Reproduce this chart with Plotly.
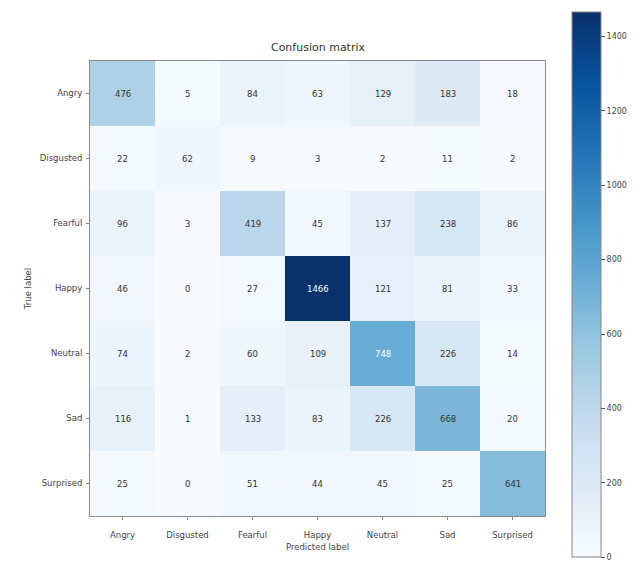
import plotly.graph_objects as go

labels = ["Angry", "Disgusted", "Fearful", "Happy", "Neutral", "Sad", "Surprised"]
matrix = [
    [476, 5, 84, 63, 129, 183, 18],
    [22, 62, 9, 3, 2, 11, 2],
    [96, 3, 419, 45, 137, 238, 86],
    [46, 0, 27, 1466, 121, 81, 33],
    [74, 2, 60, 109, 748, 226, 14],
    [116, 1, 133, 83, 226, 668, 20],
    [25, 0, 51, 44, 45, 25, 641],
]
cbar_ticks = [0, 200, 400, 600, 800, 1000, 1200, 1400]

blues = [
    [0.0, "rgb(247,251,255)"], [0.125, "rgb(222,235,247)"], [0.25, "rgb(198,219,239)"],
    [0.375, "rgb(158,202,225)"], [0.5, "rgb(107,174,214)"], [0.625, "rgb(66,146,198)"],
    [0.75, "rgb(33,113,181)"], [0.875, "rgb(8,81,156)"], [1.0, "rgb(8,48,107)"],
]

zmax = max(max(r) for r in matrix)
font = "DejaVu Sans"

fig = go.Figure(go.Heatmap(
    z=matrix, x=labels, y=labels, colorscale=blues, zmin=0, zmax=zmax,
    xgap=0, ygap=0,
    colorbar=dict(
        x=1.059, xanchor="left", xpad=0, ypad=0, thickness=29,
        lenmode="fraction", len=1.198, y=0.5086, yanchor="middle",
        tickvals=cbar_ticks, ticks="outside", ticklen=4, tickcolor="#555",
        tickfont=dict(family=font, size=8, color="#444"),
        outlinecolor="#888", outlinewidth=1,
    ),
    hoverinfo="z",
))

thresh = zmax / 2
for i, row in enumerate(matrix):
    for j, v in enumerate(row):
        fig.add_annotation(
            x=labels[j], y=labels[i], text=str(v), showarrow=False,
            font=dict(family=font, size=8.5, color="white" if v > thresh else "#333"),
        )

fig.update_layout(
    width=640, height=569,
    margin=dict(l=90, r=94, t=58, b=46),
    plot_bgcolor="white", paper_bgcolor="white",
    title=dict(text="Confusion matrix", x=318 / 640, xanchor="center",
               y=1 - 47 / 569, yanchor="middle",
               font=dict(family=font, size=11, color="#333")),
    font=dict(family=font, size=8.5, color="#444"),
)
fig.update_xaxes(
    title=dict(text="Predicted label", font=dict(size=8.5), standoff=4),
    showline=True, linecolor="#888", linewidth=1, mirror=True,
    ticks="outside", ticklen=3, tickcolor="#888", showgrid=False,
    ticklabelstandoff=8,
)
fig.update_yaxes(
    title=dict(text="True label", font=dict(size=8.5), standoff=6),
    autorange="reversed",
    showline=True, linecolor="#888", linewidth=1, mirror=True,
    ticks="outside", ticklen=3, tickcolor="#888", showgrid=False,
    ticklabelstandoff=2,
)

fig.write_html("out.html")
